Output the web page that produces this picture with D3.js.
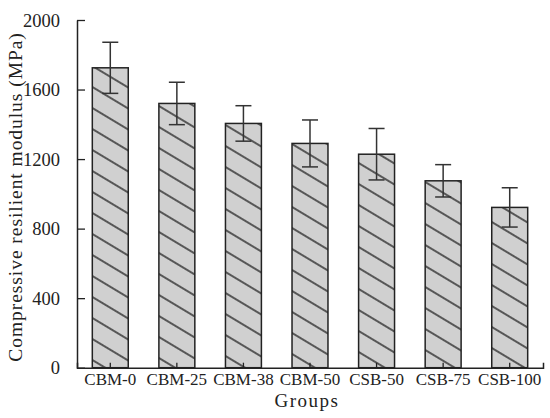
<!DOCTYPE html>
<html><head><meta charset="utf-8">
<script src="https://cdn.jsdelivr.net/npm/d3@7"></script>
<style>body{margin:0;background:#fff}svg{display:block}text{font-family:"Liberation Serif","Times New Roman",serif;fill:#222}</style>
</head><body>
<script>
const categories = ["CBM-0","CBM-25","CBM-38","CBM-50","CSB-50","CSB-75","CSB-100"];
const values = [1725, 1520, 1405, 1290, 1228, 1075, 922];
const errors = [147, 122, 102, 135, 148, 93, 113];
const yTicks = [0, 400, 800, 1200, 1600, 2000];

const W = 550, H = 418;
const m = {left: 77, right: 7, top: 20, bottom: 50.3};
const svg = d3.select("body").append("svg").attr("width", W).attr("height", H);

const defs = svg.append("defs");
const pat = defs.append("pattern").attr("id","hatch").attr("patternUnits","userSpaceOnUse")
  .attr("width",10).attr("height",18).attr("patternTransform","rotate(31)");
pat.append("rect").attr("width",10).attr("height",18).attr("fill","#d0d0d0");
pat.append("line").attr("x1",0).attr("x2",10).attr("y1",9).attr("y2",9)
  .attr("stroke","#222").attr("stroke-width",1.4);

const x = d3.scaleBand().domain(categories).range([m.left, W - m.right]).paddingInner(0.46).paddingOuter(0.23);
const y = d3.scaleLinear().domain([0, 2000]).range([H - m.bottom, m.top]);

const data = categories.map((c,i)=>({c, v: values[i], e: errors[i]}));

// bars
svg.append("g").selectAll("rect").data(data).join("rect")
  .attr("x", d => x(d.c)).attr("width", x.bandwidth())
  .attr("y", d => y(d.v)).attr("height", d => y(0) - y(d.v))
  .attr("fill","url(#hatch)").attr("stroke","#222").attr("stroke-width",1.5);

// error bars
const eg = svg.append("g").attr("stroke","#333").attr("stroke-width",1.5).attr("fill","none");
data.forEach(d => {
  const cx = x(d.c) + x.bandwidth()/2;
  eg.append("line").attr("x1",cx).attr("x2",cx).attr("y1",y(d.v+d.e)).attr("y2",y(d.v-d.e));
  eg.append("line").attr("x1",cx-8).attr("x2",cx+8).attr("y1",y(d.v+d.e)).attr("y2",y(d.v+d.e));
  eg.append("line").attr("x1",cx-8).attr("x2",cx+8).attr("y1",y(d.v-d.e)).attr("y2",y(d.v-d.e));
});

// y axis
const ya = svg.append("g").attr("transform",`translate(${m.left},0)`)
  .call(d3.axisLeft(y).tickValues(yTicks).tickFormat(d3.format("d")).tickSizeInner(-8).tickSizeOuter(0).tickPadding(17));
ya.select(".domain").attr("stroke","#222").attr("stroke-width",1.5);
ya.selectAll(".tick line").attr("stroke","#222").attr("stroke-width",1.3);
ya.selectAll(".tick text").style("font-size","18.5px").attr("fill","#222").attr("dy","0.34em");

// x axis
const xa = svg.append("g").attr("transform",`translate(0,${H - m.bottom})`)
  .call(d3.axisBottom(x).tickSizeInner(-5).tickSizeOuter(-5).tickPadding(10));
xa.select(".domain").attr("stroke","#222").attr("stroke-width",1.5);
xa.selectAll(".tick line").attr("stroke","#222").attr("stroke-width",1.3);
xa.selectAll(".tick text").style("font-size","17px").attr("fill","#222").attr("dy","0.71em").attr("y",5);

// axis titles
svg.append("text").attr("x", 307).attr("y", 406.5).attr("text-anchor","middle")
  .style("font-size","19px").style("letter-spacing","1.5px").text("Groups");
svg.append("text").attr("transform","translate(22,197) rotate(-90)").attr("text-anchor","middle")
  .style("font-size","19.5px").style("letter-spacing","0.95px").text("Compressive resilient modulus (MPa)");
</script>
</body></html>
